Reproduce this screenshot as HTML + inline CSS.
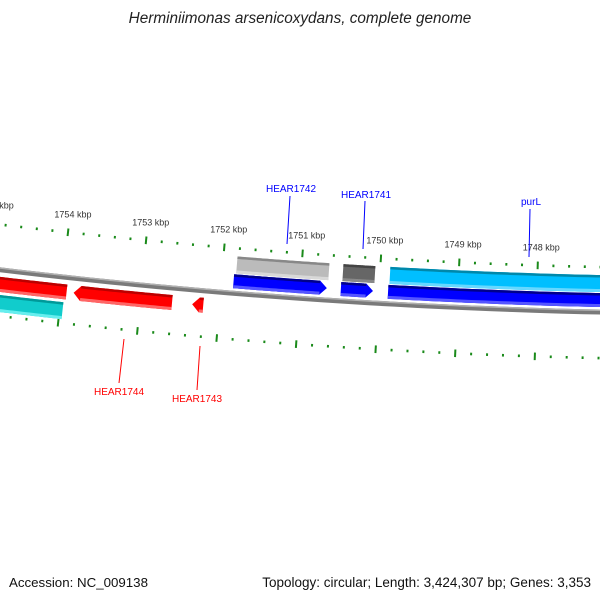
<!DOCTYPE html>
<html><head><meta charset="utf-8"><style>
html,body{margin:0;padding:0;background:#fff;}
svg{display:block;font-family:"Liberation Sans",sans-serif;}
</style></head><body>
<svg id="map" width="600" height="600" viewBox="0 0 600 600" xmlns="http://www.w3.org/2000/svg">
<rect width="600" height="600" fill="#fff"/>
<text x="300" y="23" text-anchor="middle" font-size="15.3" font-style="italic" fill="#222">Herminiimonas arsenicoxydans, complete genome</text>
<text x="9" y="587" font-size="13.3" fill="#111">Accession: NC_009138</text>
<text x="591" y="587" text-anchor="end" font-size="13.5" fill="#111">Topology: circular; Length: 3,424,307 bp; Genes: 3,353</text>
<g id="layer"></g>
</svg>
<script>
// ---- data ----
const majorTicks = [1748000, 1749000, 1750000, 1751000, 1752000, 1753000, 1754000, 1755000];
const tickLabels = ["1748 kbp","1749 kbp","1750 kbp","1751 kbp","1752 kbp","1753 kbp","1754 kbp","1755 kbp"];
const minorStep = 200;
const fwdLane1 = [ // [start, end, name, arrow]
  [1750662, 1751847, "HEAR1742", true],
  [1750076, 1750484, "HEAR1741", true],
  [1745500, 1749885, "purL", false]
];
const fwdLane2 = [
  [1750650, 1751822, "gray", false],
  [1750064, 1750471, "dark", false],
  [1745500, 1749873, "cyan", false]
];
const revLane1 = [
  [1753936, 1756000, "HEAR-prev", false],
  [1752599, 1753847, "HEAR1744", true],
  [1752204, 1752344, "HEAR1743", true]
];
const revLane2 = [
  [1753962, 1756000, "teal", false]
];
const labels = [ // name, color, text x, text y, line x1,y1,x2,y2
  ["HEAR1742","#0000ff",291,192,290,196,287,244],
  ["HEAR1741","#0000ff",366,198,365,201,363,249],
  ["purL","#0000ff",531,205,530,209,529,257],
  ["HEAR1744","#ff0000",119,395,124,339,119,383],
  ["HEAR1743","#ff0000",197,402,200,346,197,390]
];
// ---- geometry ----
const R = 6170, CX = 733, CY = 313.5 - 6170;
const RT = R - 45;
const PHI0 = Math.asin((68 - CX) / RT);
const K = 78.5 / RT; // rad per kbp
function ang(bp){ return PHI0 - (bp - 1754000) / 1000 * K; }
function pt(bp, r){ const a = ang(bp); return [CX + r*Math.sin(a), CY + r*Math.cos(a)]; }
const NS = "http://www.w3.org/2000/svg";
const layer = document.getElementById('layer');
function mk(tag, attrs){ const e = document.createElementNS(NS, tag); for (const k in attrs) e.setAttribute(k, attrs[k]); layer.appendChild(e); return e; }
function arcPts(b1, b2, r){ const out=[]; const n=40; for(let i=0;i<=n;i++){ const b=b1+(b2-b1)*i/n; out.push(pt(b,r)); } return out; }
function band(b1,b2,r1,r2){ const a=arcPts(b1,b2,r1), c=arcPts(b2,b1,r2); return a.concat(c).map(p=>p[0].toFixed(2)+','+p[1].toFixed(2)).join(' '); }
function arrowShape(lo, hi, r1, r2, tipAtLow){
  const head = 90;
  let pts;
  if (tipAtLow){
    const a = arcPts(hi, lo+head, r1), tip=[pt(lo,(r1+r2)/2)], c = arcPts(lo+head, hi, r2);
    pts = a.concat(tip, c);
  } else {
    const a = arcPts(lo, hi-head, r1), tip=[pt(hi,(r1+r2)/2)], c = arcPts(hi-head, lo, r2);
    pts = a.concat(tip, c);
  }
  return pts.map(p=>p[0].toFixed(2)+','+p[1].toFixed(2)).join(' ');
}
function drawLane(list, r1, r2, colors, tipAtLow, prefix){
  list.forEach((f, i) => {
    const col = colors[i] || colors[0];
    const lo = f[0], hi = f[1];
    let bodyLo = lo, bodyHi = hi;
    const g = mk('g', {});
    
    
    const main = f[3] ? arrowShape(lo, hi, r1, r2, tipAtLow) : band(lo, hi, r1, r2);
    if (f[3]) { if (tipAtLow) bodyLo = lo + 90; else bodyHi = hi - 90; }
    const p = document.createElementNS(NS,'polygon'); p.setAttribute('points', main); p.setAttribute('fill', col[1]); g.appendChild(p);
    
    
    const t = document.createElementNS(NS,'polygon'); t.setAttribute('points', band(bodyLo, bodyHi, r1, r1+2.5)); t.setAttribute('fill', col[0]); g.appendChild(t);
    
    
    const b = document.createElementNS(NS,'polygon'); b.setAttribute('points', band(bodyLo, bodyHi, r2-3, r2)); b.setAttribute('fill', col[2]); g.appendChild(b);
    
    
  });
}
// backbone
const bb1 = mk('polygon', {points: band(1745000, 1757000, R-2.5, R+2.5), fill:'#7a7a7a'});


const bb2 = mk('polygon', {points: band(1745000, 1757000, R-2.5, R-1), fill:'#b0b0b0'});


// lanes (smaller r = visually above)
drawLane(fwdLane1, R-19, R-5, [["#00008b","#0000ff","#5555ff"]], true, 'forward-gene');
drawLane(fwdLane2, R-37, R-20, [["#888","#bbbbbb","#d8d8d8"],["#444","#666666","#888"],["#0088aa","#00bfff","#66d8ff"]], true, 'forward-track');
drawLane(revLane1, R+7, R+22, [["#bb0000","#ff0000","#ff6666"]], false, 'reverse-gene');
drawLane(revLane2, R+25, R+42, [["#009999","#11cccc","#66eeee"]], false, 'reverse-track');
// ticks
for (let bp = 1747000; bp <= 1755400; bp += minorStep){
  const major = (bp % 1000 === 0);
  [[RT, -1],[R+46, 1]].forEach(([r, side]) => {
    const h = major ? 3.8 : 1.3;
    const a = pt(bp, r - h), b = pt(bp, r + h);
    const l = mk('line', {x1:a[0], y1:a[1], x2:b[0], y2:b[1], stroke:'#1a8a1a', 'stroke-width': 2});
    
    
  });
}
majorTicks.forEach((bp, i) => {
  const p = pt(bp, RT - 18);
  const t = mk('text', {x: p[0]+3, y: p[1]+3, 'text-anchor':'middle', 'font-size': 9, fill:'#333'});
  t.textContent = tickLabels[i];
  
  
});
// feature labels
labels.forEach(L => {
  const ln = mk('line', {x1:L[4], y1:L[5], x2:L[6], y2:L[7], stroke:L[1], 'stroke-width':1});
  
  
  const t = mk('text', {x:L[2], y:L[3], 'text-anchor':'middle', 'font-size':10, fill:L[1]});
  t.textContent = L[0];
  
  
});
</script>
</body></html>
